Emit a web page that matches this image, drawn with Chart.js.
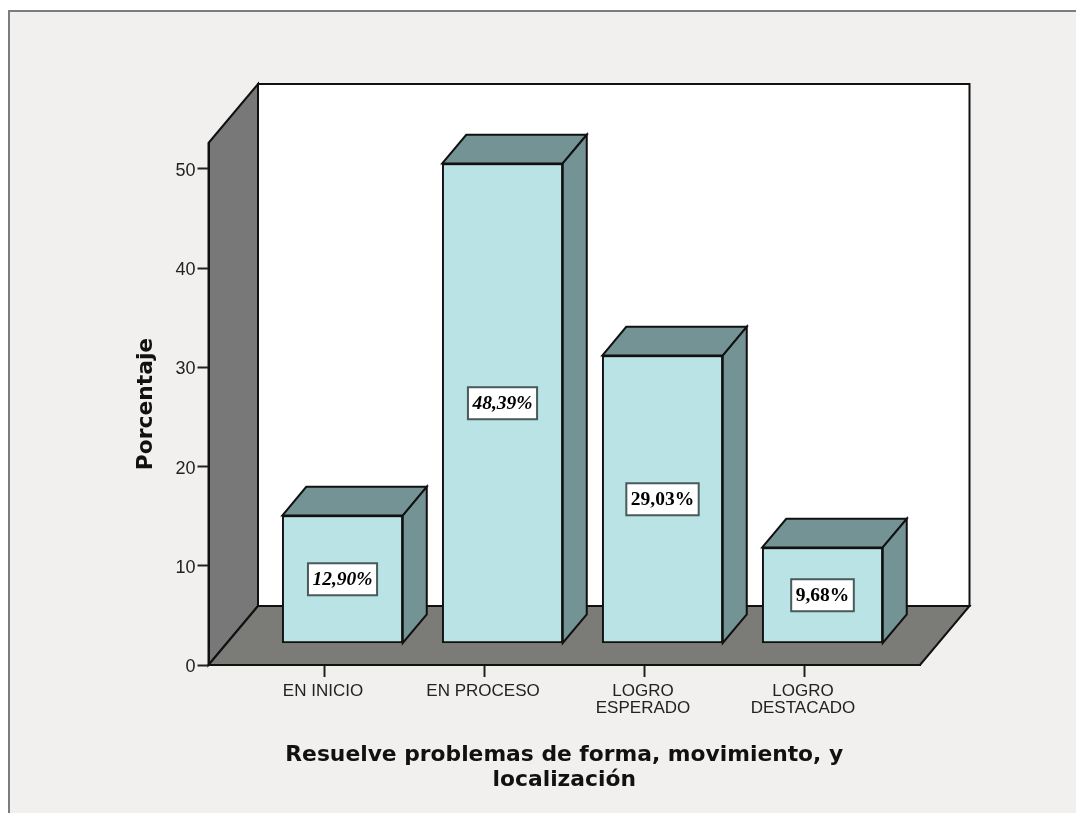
<!DOCTYPE html>
<html><head><meta charset="utf-8">
<script src="https://cdn.jsdelivr.net/npm/chart.js@4"></script>
<style>html,body{margin:0;padding:0;background:#fff}canvas{display:block}</style>
</head><body>
<canvas id="c" width="1076" height="814"></canvas>
<script>
const categories = ['EN INICIO','EN PROCESO','LOGRO ESPERADO','LOGRO DESTACADO'];
const tickLabels = [['EN INICIO'],['EN PROCESO'],['LOGRO','ESPERADO'],['LOGRO','DESTACADO']];
const values = [12.90,48.39,29.03,9.68];
const valueLabels = ['12,90%','48,39%','29,03%','9,68%'];
const xTitle = ['Resuelve problemas de forma, movimiento, y','localización'];
const yTitle = 'Porcentaje';

const BAR_OFF = {x:18.5,y:-21.5}, BAR_DEPTH = {x:24,y:-28.7}, FLOOR = {x:49.5,y:-59};
const LINE = '#111';

function poly(ctx, pts, fill){
  ctx.beginPath();
  pts.forEach((p,i)=> i?ctx.lineTo(p[0],p[1]):ctx.moveTo(p[0],p[1]));
  ctx.closePath();
  ctx.fillStyle=fill; ctx.fill();
  ctx.lineWidth=2; ctx.strokeStyle=LINE; ctx.lineJoin='miter'; ctx.stroke();
}
const scene = {
  id:'scene',
  beforeDraw(chart){
    const {ctx,chartArea:a}=chart;
    ctx.save();
    ctx.fillStyle='#fff'; ctx.fillRect(0,0,1076,814);
    ctx.fillStyle='#f1f0ee'; ctx.fillRect(9,10,1067,803);
    ctx.fillStyle='#7c7c7c'; ctx.fillRect(9,10,1067,2); ctx.fillRect(8,10,2,803);
    const fx=FLOOR.x, fy=FLOOR.y;
    const backTop=a.top+fy;
    poly(ctx,[[a.left+fx,backTop+.0],[a.right+fx,backTop],[a.right+fx,a.bottom+fy],[a.left+fx,a.bottom+fy]],'#fff');
    poly(ctx,[[a.left,a.top],[a.left+fx,backTop],[a.left+fx,a.bottom+fy],[a.left,a.bottom]],'#787878');
    poly(ctx,[[a.left,a.bottom],[a.left+fx,a.bottom+fy],[a.right+fx,a.bottom+fy],[a.right,a.bottom]],'#7b7c78');
    ctx.restore();
  },
  beforeDatasetDraw(chart){
    const ctx=chart.ctx;
    ctx.save();
    ctx.translate(BAR_OFF.x,BAR_OFF.y);
    chart.getDatasetMeta(0).data.forEach(b=>{
      const l=b.x-b.width/2,r=b.x+b.width/2,t=b.y,m=b.base;
      const dx=BAR_DEPTH.x,dy=BAR_DEPTH.y;
      poly(ctx,[[l,t],[l+dx,t+dy],[r+dx,t+dy],[r,t]],'#739394');
      poly(ctx,[[r,t],[r+dx,t+dy],[r+dx,m+dy],[r,m]],'#739394');
    });
  },
  afterDatasetDraw(chart){
    const ctx=chart.ctx;
    chart.getDatasetMeta(0).data.forEach((b,i)=>{
      const cx=b.x, cy=(b.y+b.base)/2;
      const text=valueLabels[i];
      ctx.font=(i<2?'italic bold ':'bold ')+'19.5px "Liberation Serif"';
      const w=ctx.measureText(text).width+9, h=32;
      ctx.fillStyle='#fff'; ctx.fillRect(cx-w/2,cy-h/2,w,h);
      ctx.strokeStyle='#4a5a5a'; ctx.lineWidth=2; ctx.strokeRect(cx-w/2,cy-h/2,w,h);
      ctx.fillStyle='#000'; ctx.textAlign='center'; ctx.textBaseline='middle';
      ctx.fillText(text,cx,cy+1);
    });
    ctx.restore();
  }
};
new Chart(document.getElementById('c'),{
  type:'bar',
  data:{labels:categories,datasets:[{
    label:yTitle,
    data:values.map((v,i)=>({x:i+1,y:v})),
    backgroundColor:'#b9e3e4',borderColor:LINE,borderWidth:2,borderSkipped:false,barThickness:120.5
  }]},
  options:{
    responsive:false,animation:false,
    layout:{padding:{top:143,right:156,left:0,bottom:0}},
    plugins:{legend:{display:false},tooltip:{enabled:false},title:{display:false}},
    scales:{
      x:{type:'linear',min:0.278,max:4.725,offset:false,
        afterFit(s){s.height=149;},
        grid:{offset:false,drawOnChartArea:false,drawTicks:true,tickLength:12,color:'#222',tickWidth:2},
        border:{display:true,color:LINE,width:2},
        ticks:{stepSize:1,includeBounds:false,maxRotation:0,autoSkip:false,padding:6,labelOffset:-1,color:'#222',
          font:{family:'"Liberation Sans"',size:17,lineHeight:1},
          callback:v=>tickLabels[v-1]},
        title:{display:true,text:xTitle,color:'#111',font:{family:'"DejaVu Sans"',weight:'bold',size:21.8,lineHeight:'25px'},padding:{bottom:21.5}}
      },
      y:{min:0,max:52.62,
        afterFit(s){s.width=208.5;},
        grid:{drawOnChartArea:false,drawTicks:true,tickLength:11,color:'#222',tickWidth:2},
        border:{display:true,color:LINE,width:2},
        ticks:{stepSize:10,includeBounds:false,padding:2,labelOffset:2,color:'#222',font:{family:'"Liberation Sans"',size:18}},
        title:{display:true,text:yTitle,color:'#111',font:{family:'"DejaVu Sans"',weight:'bold',size:21.8,lineHeight:'25px'},padding:{top:134}}
      }
    }
  },
  plugins:[scene]
});
</script>
</body></html>
